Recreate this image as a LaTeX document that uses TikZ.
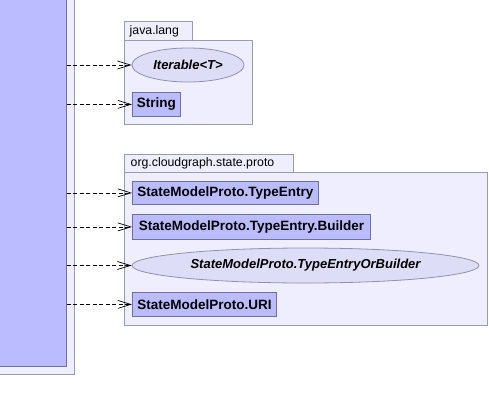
\documentclass[tikz,border=0pt]{standalone}
\usepackage{fontspec}
\setmainfont{Liberation Sans}
\usetikzlibrary{arrows.meta,shapes.geometric}
\definecolor{pkgfill}{HTML}{EEEEFF}
\definecolor{pkgline}{HTML}{9A9AB0}
\definecolor{clsfill}{HTML}{BBBBFF}
\definecolor{clsline}{HTML}{7070A0}
\definecolor{ifcfill}{HTML}{DDDDF8}
\definecolor{ifcline}{HTML}{9090B0}
\tikzset{
  pkg/.style={draw=pkgline, fill=pkgfill, line width=0.8pt},
  pkglabel/.style={anchor=west, inner sep=0pt, font=\fontsize{12.3}{14}\selectfont},
  cls/.style={draw=clsline, fill=clsfill, line width=0.8pt, anchor=north west,
    inner sep=0pt, minimum height=24pt, font=\fontsize{13.5}{15}\selectfont\bfseries},
  ifc/.style={ellipse, draw=ifcline, fill=ifcfill, line width=0.8pt, inner sep=0pt,
    font=\fontsize{13}{15}\selectfont\bfseries\itshape},
  dep/.style={dashed, dash pattern=on 4pt off 2.5pt, line width=0.7pt,
    -{Straight Barb[length=13pt,width=8pt,line width=0.7pt]}}
}
\begin{document}
\begin{tikzpicture}[x=1pt,y=-1pt]
\useasboundingbox (0,0) rectangle (489,412);
\fill[white] (0,0) rectangle (489,412);

% the depending class on the left
\draw[pkg] (-10,-10) rectangle (74,374);
\node[draw=clsline, fill=clsfill, line width=0.8pt, anchor=north west, inner sep=0pt,
  minimum width=76pt, minimum height=376pt] (src) at (-10,-10) {};

% package java.lang
\draw[pkg] (124,21) rectangle (192,40);
\node[pkglabel] (jl) at (129.5,31) {java.lang};
\draw[pkg] (124,40) rectangle (252,124);
\node[ifc, minimum width=112pt, minimum height=34pt] (iter) at (188,65) {Iterable<T>};
\node[cls, minimum width=48pt] (str) at (132,92) {String};

% package org.cloudgraph.state.proto
\draw[pkg] (124,154) rectangle (293,172);
\node[pkglabel] (ocp) at (130.5,163.5) {org.cloudgraph.state.proto};
\draw[pkg] (124,172) rectangle (487,325);
\node[cls, minimum width=186pt, minimum height=23pt] (te) at (132,181) {StateModelProto.TypeEntry};
\node[cls, minimum width=238pt, minimum height=25pt] (teb) at (132,214) {StateModelProto.TypeEntry.Builder};
\node[ifc, minimum width=347pt, minimum height=35pt] (teob) at (305.5,265.5) {StateModelProto.TypeEntryOrBuilder};
\node[cls, minimum width=144pt] (uri) at (132,292) {StateModelProto.URI};

% dependencies
\draw[dep] (src.east |- iter.west) -- (iter.west);
\draw[dep] (src.east |- str.west) -- (str.west);
\draw[dep] (src.east |- te.west) -- (te.west);
\draw[dep] (src.east |- teb.west) -- (teb.west);
\draw[dep] (src.east |- teob.west) -- (teob.west);
\draw[dep] (src.east |- uri.west) -- (uri.west);
\end{tikzpicture}
\end{document}
